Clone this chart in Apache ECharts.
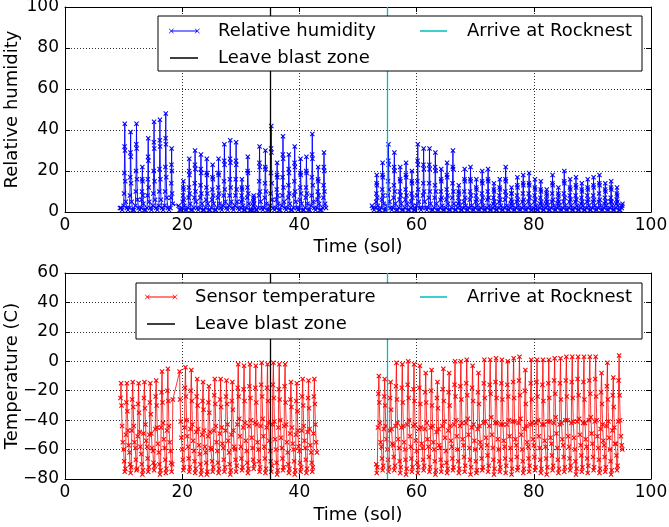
<!DOCTYPE html>
<html><head><meta charset="utf-8">
<script src="https://cdn.jsdelivr.net/npm/echarts@6/dist/echarts.min.js"></script>
<style>html,body{margin:0;padding:0;background:#fff}#c{width:669px;height:527px}</style>
</head><body><div id="c"></div>
<script>
// ---------- axis ticks ----------
const solTicks = [0, 20, 40, 60, 80, 100];
const rhTicks = [0, 20, 40, 60, 80, 100];
const tempTicks = [-80, -60, -40, -20, 0, 20, 40, 60];

// ---------- events (sol) ----------
const eventSols = [35, 55];
const eventNames = ['Leave blast zone', 'Arrive at Rocknest'];

// ---------- relative humidity (%) : samples within each sol ----------
const rhOffsets = [0.0, 0.08, 0.13, 0.17, 0.2, 0.23, 0.28, 0.38, 0.55, 0.75];
const rhSeg1Days = [9,10,11,12,13,14,15,16,17,18,19,20,21,22,23,24,25,26,27,28,29,30,31,32,33,34,35,36,37,38,39,40,41,42,43,44];
const rhSeg1 = [
[null,null,null,null,null,null,null,2,2,1],
[3,9,19,32,43,30,15,5,2,1],
[2,8,17,29,39,27,14,5,1,1],
[3,10,20,33,43,31,16,6,2,1],
[2,6,10,16,22,15,8,4,1,1],
[2,8,16,27,36,25,12,5,2,1],
[3,9,20,34,44,31,15,6,2,1],
[3,10,21,35,45,32,16,6,2,1],
[3,10,22,36,48,33,17,7,2,1],
[2,7,14,23,31,20,9,4,null,null],
[null,null,null,null,null,null,null,3,1,1],
[2,5,8,12,15,11,6,3,1,1],
[2,7,12,20,26,18,9,4,1,1],
[2,7,14,23,30,21,10,5,2,1],
[2,7,13,21,28,19,9,4,1,1],
[2,6,12,19,26,18,9,4,1,1],
[2,6,11,17,23,16,8,4,1,1],
[2,7,12,19,26,18,9,4,2,1],
[3,8,15,25,33,23,11,5,2,1],
[3,8,16,26,35,24,12,5,2,1],
[3,8,16,25,34,23,11,5,2,1],
[2,5,8,12,16,11,6,3,1,1],
[2,7,12,20,27,19,9,4,1,1],
[1,3,5,7,8,6,4,2,1,1],
[2,8,15,24,32,22,10,5,2,1],
[2,7,14,22,30,21,10,4,1,1],
[3,9,19,31,42,29,14,6,2,1],
[2,6,11,18,24,17,8,4,1,1],
[3,8,17,28,37,26,12,5,2,1],
[2,7,13,21,28,19,9,4,1,1],
[2,8,15,24,32,22,10,5,2,1],
[2,6,12,19,26,18,9,4,1,1],
[2,7,12,20,27,19,9,4,1,1],
[3,8,17,28,38,26,13,5,2,1],
[2,6,10,16,22,15,8,4,1,1],
[2,7,13,22,29,20,10,4,2,null]
];
const rhSeg2Days = [52,53,54,55,56,57,58,59,60,61,62,63,64,65,66,67,68,69,70,71,72,73,74,75,76,77,78,79,80,81,82,83,84,85,86,87,88,89,90,91,92,93,94,95];
const rhSeg2 = [
[null,null,null,null,null,null,null,3,2,1],
[2,5,9,14,18,13,7,3,1,1],
[2,6,11,18,24,17,8,4,1,1],
[3,8,15,25,33,23,11,5,2,1],
[2,7,13,22,29,20,10,4,1,1],
[2,6,10,16,22,15,8,4,1,1],
[2,6,11,18,24,17,8,4,1,1],
[2,5,9,15,20,14,7,3,1,1],
[3,8,15,25,33,23,11,5,2,1],
[2,8,14,23,31,21,10,5,2,1],
[2,7,14,23,31,21,10,4,1,1],
[2,7,13,22,29,20,10,4,1,1],
[2,6,10,16,21,15,7,3,1,1],
[2,6,11,18,24,17,8,4,1,1],
[2,7,14,22,30,21,10,4,1,1],
[2,4,7,10,13,9,5,3,1,1],
[2,5,10,16,21,15,7,3,1,1],
[2,6,10,16,22,15,8,3,1,1],
[2,5,8,12,16,11,6,3,1,1],
[2,5,9,15,20,14,7,3,1,1],
[2,6,10,16,21,15,7,3,1,1],
[2,4,7,11,14,10,5,3,1,1],
[2,5,8,12,16,11,6,3,1,1],
[2,6,10,16,22,15,8,3,1,1],
[2,4,6,9,12,9,5,3,1,1],
[2,5,8,13,17,12,6,3,1,1],
[2,5,9,14,18,13,6,3,1,1],
[2,5,9,14,19,13,7,3,1,1],
[2,5,8,12,16,11,6,3,1,1],
[2,4,7,11,15,10,5,3,1,1],
[2,4,6,9,11,8,5,3,1,1],
[2,5,9,14,18,13,6,3,1,1],
[2,4,6,9,12,8,5,3,1,1],
[2,5,9,15,20,14,7,3,1,1],
[2,5,8,12,16,11,6,3,1,1],
[2,5,8,13,17,12,6,3,1,1],
[2,4,7,11,14,10,5,3,1,1],
[2,5,8,12,16,11,6,3,1,1],
[2,5,8,13,17,12,6,3,1,1],
[2,5,9,14,18,13,6,3,1,1],
[2,4,7,11,14,10,5,3,1,1],
[2,5,7,12,15,11,5,3,1,1],
[2,4,6,9,12,8,5,3,1,1],
[2,3,4,null,null,null,null,null,null,null]
];

// ---------- sensor temperature (C) : samples within each sol ----------
const tOffsets = [0.0, 0.1, 0.2, 0.3, 0.4, 0.47, 0.56, 0.64, 0.74, 0.86];
const tSeg1Days = [9,10,11,12,13,14,15,16,17,18,19,20,21,22,23,24,25,26,27,28,29,30,31,32,33,34,35,36,37,38,39,40,41,42,43];
const tSeg1 = [
[null,null,null,null,null,-25,-15,-30,-44,-55],
[-60,-68,-75,-73,-50,-28,-15,-34,-47,-57],
[-62,-70,-76,-72,-47,-26,-14,-31,-44,-55],
[-59,-67,-74,-73,-51,-29,-15,-35,-48,-58],
[-63,-70,-77,-74,-49,-25,-14,-32,-43,-54],
[-58,-66,-75,-72,-50,-28,-15,-36,-49,-59],
[-61,-69,-74,-71,-46,-24,-13,-30,-45,-56],
[-62,-70,-77,-74,-45,-21,-7,-28,-42,-53],
[-59,-67,-76,-73,-47,-20,-5,-27,-44,-55],
[-61,-69,-75,-70,-26,null,null,null,null,null],
[null,null,null,null,null,null,-7,-26,-41,-52],
[-60,-67,-74,-72,-45,-18,-4,-24,-40,-51],
[-58,-66,-75,-72,-46,-20,-6,-27,-43,-54],
[-61,-68,-76,-73,-48,-24,-12,-30,-46,-57],
[-63,-70,-77,-74,-50,-27,-14,-33,-47,-58],
[-62,-69,-77,-75,-51,-28,-17,-35,-48,-59],
[-60,-68,-75,-72,-47,-23,-12,-29,-44,-55],
[-61,-69,-76,-73,-49,-26,-12,-31,-45,-56],
[-59,-67,-75,-72,-47,-24,-13,-29,-43,-54],
[-62,-70,-77,-74,-50,-27,-14,-33,-47,-58],
[-60,-67,-75,-71,-43,-18,-2,-24,-39,-51],
[-58,-66,-74,-72,-45,-19,-3,-27,-42,-54],
[-61,-69,-76,-73,-44,-17,-2,-25,-40,-52],
[-59,-67,-73,-70,-42,-18,-3,-28,-43,-55],
[-60,-68,-75,-72,-44,-16,-1,-24,-39,-51],
[-58,-66,-76,-73,-45,-18,-2,-27,-42,-54],
[-61,-68,-75,-71,-43,-16,-1,-25,-41,-53],
[-60,-69,-77,-74,-45,-19,-2,-26,-40,-52],
[-59,-66,-74,-72,-44,-17,-2,-28,-43,-55],
[-62,-70,-76,-73,-49,-26,-14,-31,-45,-56],
[-60,-68,-77,-74,-50,-27,-15,-34,-47,-58],
[-61,-69,-75,-72,-47,-24,-12,-30,-44,-54],
[-59,-67,-76,-73,-48,-25,-13,-32,-46,-57],
[-62,-69,-75,-72,-49,-24,-12,-29,-43,-55],
[-62,null,null,null,null,null,null,null,null,null]
];
const tSeg2Days = [53,54,55,56,57,58,59,60,61,62,63,64,65,66,67,68,69,70,71,72,73,74,75,76,77,78,79,80,81,82,83,84,85,86,87,88,89,90,91,92,93,94,95];
const tSeg2 = [
[null,-70,-76,-72,-45,-22,-10,-28,-42,-55],
[-58,-66,-74,-71,-46,-24,-12,-30,-44,-53],
[-60,-67,-75,-72,-47,-25,-14,-33,-46,-56],
[-57,-65,-74,-71,-44,-17,-1,-26,-42,-53],
[-59,-68,-76,-72,-45,-18,-2,-28,-44,-55],
[-60,-67,-77,-73,-43,-16,0,-25,-40,-51],
[-58,-66,-75,-72,-44,-19,-2,-27,-43,-54],
[-61,-69,-76,-72,-46,-18,-3,-29,-45,-56],
[-59,-67,-74,-71,-46,-21,-8,-28,-42,-53],
[-58,-65,-75,-72,-45,-20,-6,-30,-44,-55],
[-60,-68,-77,-74,-48,-25,-14,-32,-46,-57],
[-59,-67,-75,-71,-44,-19,-5,-27,-41,-52],
[-61,-69,-76,-73,-47,-21,-8,-30,-44,-54],
[-58,-66,-74,-72,-43,-16,0,-24,-40,-51],
[-60,-68,-76,-73,-44,-17,0,-26,-42,-53],
[-57,-65,-75,-71,-42,-15,1,-23,-39,-50],
[-59,-67,-77,-72,-45,-18,-3,-27,-43,-54],
[-60,-68,-76,-74,-46,-21,-8,-29,-44,-55],
[-58,-66,-74,-72,-42,-15,1,-25,-41,-52],
[-57,-64,-75,-71,-44,-16,1,-22,-38,-50],
[-59,-67,-77,-73,-42,-14,2,-25,-42,-53],
[-60,-68,-75,-72,-43,-15,1,-26,-43,-54],
[-58,-66,-76,-71,-43,-16,0,-24,-40,-51],
[-59,-67,-77,-73,-41,-14,2,-25,-41,-53],
[-57,-65,-74,-72,-42,-13,3,-23,-39,-50],
[-60,-68,-76,-73,-46,-20,-6,-29,-44,-55],
[-58,-66,-75,-71,-43,-15,1,-26,-42,-53],
[-57,-65,-74,-72,-42,-14,1,-24,-40,-51],
[-59,-67,-76,-73,-43,-16,1,-27,-43,-54],
[-58,-66,-77,-72,-41,-15,1,-25,-41,-52],
[-56,-64,-74,-71,-42,-13,2,-22,-38,-49],
[-59,-67,-76,-73,-43,-15,2,-26,-42,-53],
[-57,-65,-75,-72,-40,-13,3,-24,-40,-51],
[-58,-66,-74,-71,-42,-14,3,-25,-41,-52],
[-60,-68,-77,-73,-41,-12,3,-23,-39,-50],
[-57,-64,-75,-72,-42,-14,3,-26,-42,-53],
[-58,-66,-76,-71,-40,-13,3,-22,-38,-49],
[-56,-65,-74,-72,-41,-12,3,-24,-40,-51],
[-59,-67,-76,-73,-46,-21,-8,-29,-43,-54],
[-57,-65,-75,-72,-44,-17,-1,-26,-41,-52],
[-60,-68,-77,-74,-47,-23,-11,-31,-45,-56],
[-56,-64,-74,-71,-41,-13,4,-23,-40,-51],
[-57,-60,null,null,null,null,null,null,null,null]
];

// ---------- build [sol, value] points ----------
function buildSegments(segs, offsets) {
  const out = [];
  segs.forEach((s, k) => {
    if (k > 0) out.push([s.days[0] - 1, null]); // data gap
    s.days.forEach((d, i) => {
      s.values[i].forEach((v, j) => { if (v !== null) out.push([d + offsets[j], v]); });
    });
  });
  return out;
}
const rhData = buildSegments([{days: rhSeg1Days, values: rhSeg1}, {days: rhSeg2Days, values: rhSeg2}], rhOffsets);
const tData = buildSegments([{days: tSeg1Days, values: tSeg1}, {days: tSeg2Days, values: tSeg2}], tOffsets);

// ---------- styling ----------
const FONT = 'DejaVu Sans';
const BLUE = '#0000ff', RED = '#ff0000', CYAN = '#00bfbf', BLACK = '#000000';
const xMark = 'path://M0,1.5L1.5,0L5,3.5L8.5,0L10,1.5L6.5,5L10,8.5L8.5,10L5,6.5L1.5,10L0,8.5L3.5,5Z';
function xAt(cx) { const a = 2.6, t = 0.45; return `M${cx-a},${3-a+t}L${cx-a+t},${3-a}L${cx},${3-t}L${cx+a-t},${3-a}L${cx+a},${3-a+t}L${cx+t},3L${cx+a},${3+a-t}L${cx+a-t},${3+a}L${cx},${3+t}L${cx-a+t},${3+a}L${cx-a},${3+a-t}L${cx-t},3Z`; }
function markIcon(x1, x2, w) { return `path://M0,0h0.01v0.01h-0.01Z M${w},6h-0.01v-0.01h0.01Z M${x1},2.5L${x2},2.5L${x2},3.5L${x1},3.5Z ` + xAt(x1) + ' ' + xAt(x2); }
function lineIcon(x1, x2, w) { return `path://M0,0h0.01v0.01h-0.01Z M${w},6h-0.01v-0.01h0.01Z M${x1},2.35L${x2},2.35L${x2},3.65L${x1},3.65Z`; }
const minus = v => String(v).replace('-', '\u2212');

function axisPair(gridIndex, ticks, isX, labelShow, pos, name, nameGap) {
  const ax = {
    type: 'value', gridIndex, position: pos,
    min: ticks[0], max: ticks[ticks.length - 1], interval: ticks[1] - ticks[0],
    axisLine: {show: true, onZero: false, lineStyle: {color: BLACK, width: 1}},
    axisTick: {show: true, inside: true, length: 5, lineStyle: {color: BLACK, width: 1}},
    axisLabel: {show: labelShow, color: BLACK, fontFamily: FONT, fontSize: 17, margin: isX ? 5 : 6, formatter: minus},
    splitLine: {show: labelShow, lineStyle: {color: BLACK, width: 0.8, type: [1, 2]}}
  };
  if (name) {
    ax.name = name; ax.nameLocation = 'middle'; ax.nameGap = nameGap;
    ax.nameMoveOverlap = false;
    ax.nameTextStyle = {color: BLACK, fontFamily: FONT, fontSize: 18};
  }
  return ax;
}

const legendBase = {padding: 0, itemHeight: 6, selectedMode: false, z: 10,
  textStyle: {color: BLACK, fontFamily: FONT, fontSize: 18}, itemStyle: {borderWidth: 0}};
function lg(name, icon, color, left, top, w) {
  return Object.assign({}, legendBase, {left, top, itemWidth: w,
    data: [{name, icon, itemStyle: {color, borderWidth: 0}}]});
}

function vlines() {
  return {silent: true, symbol: 'none', label: {show: false}, animation: false,
    data: [
      {xAxis: eventSols[0], lineStyle: {color: BLACK, width: 1.3, type: 'solid'}},
      {xAxis: eventSols[1], lineStyle: {color: CYAN, width: 1.3, type: 'solid'}}
    ]};
}

const chart = echarts.init(document.getElementById('c'), null, {renderer: 'canvas'});
chart.setOption({
  animation: false,
  backgroundColor: '#ffffff',
  grid: [
    {left: 65, top: 7, width: 586, height: 205, show: false, containLabel: false, outerBoundsMode: 'none'},
    {left: 65, top: 273, width: 586, height: 206, show: false, containLabel: false, outerBoundsMode: 'none'}
  ],
  xAxis: [
    axisPair(0, solTicks, true, true, 'bottom', 'Time (sol)', 26),
    axisPair(0, solTicks, true, false, 'top'),
    axisPair(1, solTicks, true, true, 'bottom', 'Time (sol)', 27),
    axisPair(1, solTicks, true, false, 'top')
  ],
  yAxis: [
    axisPair(0, rhTicks, false, true, 'left', 'Relative humidity', 44),
    axisPair(0, rhTicks, false, false, 'right'),
    axisPair(1, tempTicks, false, true, 'left', 'Temperature (C)', 44),
    axisPair(1, tempTicks, false, false, 'right')
  ],
  legend: [
    lg('Relative humidity', markIcon(3.3, 29.3, 45), BLUE, 168, 22, 45),
    lg(eventNames[0], lineIcon(2, 30, 45), BLACK, 168, 49, 45),
    lg(eventNames[1], lineIcon(2, 29, 44), CYAN, 418, 22, 44),
    lg('Sensor temperature', markIcon(3.3, 31, 46), RED, 144, 288, 46),
    lg(eventNames[0], lineIcon(3, 31, 46), BLACK, 144, 315, 46),
    lg(eventNames[1], lineIcon(2, 29, 44), CYAN, 418, 288, 44)
  ],
  graphic: [
    {type: 'rect', z: 8, shape: {x: 158, y: 16, width: 484, height: 55}, style: {fill: '#fff', stroke: BLACK, lineWidth: 1}},
    {type: 'rect', z: 8, shape: {x: 136, y: 283, width: 506, height: 56}, style: {fill: '#fff', stroke: BLACK, lineWidth: 1}}
  ],
  series: [
    {name: 'Relative humidity', type: 'line', xAxisIndex: 0, yAxisIndex: 0, data: rhData,
     symbol: xMark, symbolSize: 5, showAllSymbol: true, connectNulls: false, clip: true,
     color: BLUE, lineStyle: {color: BLUE, width: 0.9}, itemStyle: {color: BLUE}, z: 2,
     markLine: vlines()},
    {name: eventNames[0], type: 'line', xAxisIndex: 0, yAxisIndex: 0, data: [], color: BLACK},
    {name: eventNames[1], type: 'line', xAxisIndex: 0, yAxisIndex: 0, data: [], color: CYAN},
    {name: 'Sensor temperature', type: 'line', xAxisIndex: 2, yAxisIndex: 2, data: tData,
     symbol: xMark, symbolSize: 5, showAllSymbol: true, connectNulls: false, clip: true,
     color: RED, lineStyle: {color: RED, width: 0.8}, itemStyle: {color: RED}, z: 2,
     markLine: vlines()},
    {name: eventNames[0] + ' ', type: 'line', xAxisIndex: 2, yAxisIndex: 2, data: [], color: BLACK},
    {name: eventNames[1] + ' ', type: 'line', xAxisIndex: 2, yAxisIndex: 2, data: [], color: CYAN}
  ]
});
</script></body></html>
